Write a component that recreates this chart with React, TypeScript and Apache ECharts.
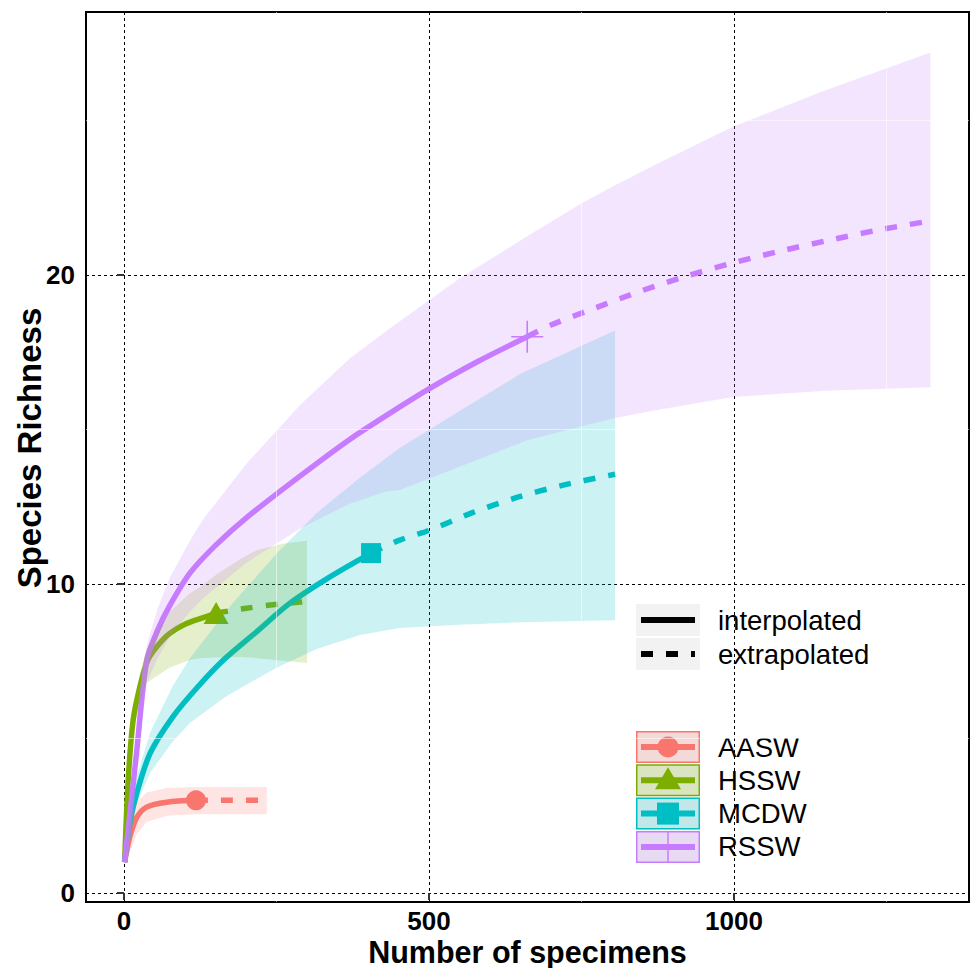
import React, { useEffect, useRef } from "react";
import * as echarts from "echarts";

// ---------- data ----------
const siteNames = ["AASW", "HSSW", "MCDW", "RSSW"];
const siteColors = ["#F8766D", "#7CAE00", "#00BFC4", "#C77CFF"];

// AASW
const aaswInterpX = [1, 10, 21, 37, 70, 118];
const aaswInterpY = [1, 1.85, 2.45, 2.78, 2.94, 3.0];
const aaswExtrapX = [118, 176, 234];
const aaswExtrapY = [3.0, 3.0, 3.0];
const aaswBandX = [1, 10, 21, 37, 70, 118, 176, 234];
const aaswBandLo = [1, 1.35, 1.9, 2.3, 2.5, 2.55, 2.55, 2.55];
const aaswBandHi = [1, 2.4, 2.95, 3.25, 3.4, 3.43, 3.43, 3.43];

// HSSW
const hsswInterpX = [1, 7, 15, 26, 39, 55, 75, 100, 136, 151];
const hsswInterpY = [1, 3.7, 5.6, 6.67, 7.54, 8.0, 8.4, 8.7, 8.95, 9.06];
const hsswExtrapX = [151, 195, 240, 289, 300];
const hsswExtrapY = [9.06, 9.2, 9.32, 9.42, 9.45];
const hsswBandX = [1, 7, 15, 26, 37, 75, 108, 125, 151, 190, 218, 260, 300];
const hsswBandLo = [1, 3.2, 5.2, 6.2, 6.8, 7.3, 7.54, 7.6, 7.63, 7.64, 7.6, 7.52, 7.44];
const hsswBandHi = [1, 4.2, 6.0, 7.1, 7.9, 9.1, 9.7, 9.9, 10.3, 10.8, 11.1, 11.3, 11.4];

// MCDW
const mcdwInterpX = [1, 10, 21, 43, 80, 120, 163, 220, 272, 335, 405];
const mcdwInterpY = [1, 2.3, 3.24, 4.53, 5.7, 6.65, 7.54, 8.5, 9.38, 10.2, 11.0];
const mcdwExtrapX = [405, 452, 502, 570, 644, 720, 805];
const mcdwExtrapY = [11.0, 11.42, 11.75, 12.3, 12.8, 13.2, 13.55];
const mcdwBandX = [1, 10, 21, 43, 80, 108, 163, 179, 251, 316, 387, 452, 550, 650, 805];
const mcdwBandLo = [1, 2.0, 2.9, 3.9, 4.9, 5.5, 6.3, 6.5, 7.3, 7.9, 8.35, 8.58, 8.68, 8.76, 8.83];
const mcdwBandHi = [1, 2.8, 3.8, 5.2, 6.7, 7.6, 9.0, 9.4, 11.0, 12.3, 13.45, 14.4, 15.6, 16.8, 18.2];

// RSSW
const rsswInterpX = [1, 10, 20, 37, 55, 75, 108, 150, 201, 289, 370, 452, 502, 580, 661];
const rsswInterpY = [1, 2.63, 4.43, 7.5, 8.5, 9.3, 10.35, 11.25, 12.15, 13.5, 14.68, 15.73, 16.34, 17.2, 18.0];
const rsswExtrapX = [661, 700, 775, 850, 925, 1000, 1075, 1150, 1235, 1322];
const rsswExtrapY = [18.0, 18.38, 18.95, 19.5, 19.98, 20.4, 20.77, 21.1, 21.45, 21.75];
const rsswBandX = [1, 10, 20, 37, 55, 75, 108, 130, 201, 289, 370, 431, 452, 551, 661, 748, 805, 879, 998, 1150, 1322];
const rsswBandLo = [1, 2.3, 3.9, 6.8, 7.6, 8.3, 9.1, 9.55, 10.7, 11.8, 12.6, 13.0, 13.04, 13.8, 14.65, 15.1, 15.37, 15.65, 16.05, 16.25, 16.37];
const rsswBandHi = [1, 3.0, 5.0, 8.0, 9.2, 10.2, 11.4, 12.1, 13.9, 15.8, 17.3, 18.2, 18.5, 19.9, 21.25, 22.3, 22.9, 23.65, 24.8, 25.98, 27.2];

// axes
const xTickValues = [0, 500, 1000];
const yTickValues = [0, 10, 20];
const xMinorValues = [250, 750, 1250];
const yMinorValues = [5, 15, 25];
const X_MIN = -62.3;
const X_MAX = 1385.2;
const Y_MIN = -0.29;
const Y_MAX = 28.51;

const legendLineTypes = ["interpolated", "extrapolated"];

// ---------- helpers ----------
const FONT = '"Liberation Sans", Arial, Helvetica, sans-serif';
const zip = (xs: number[], ys: number[]) => xs.map((x, i) => [x, ys[i]]);
const PLUS_PATH = "path://M-0.05,-1 L0.05,-1 L0.05,-0.05 L1,-0.05 L1,0.05 L0.05,0.05 L0.05,1 L-0.05,1 L-0.05,0.05 L-1,0.05 L-1,-0.05 L-0.05,-0.05 Z";

function hexA(hex: string, a: number) {
  const r = parseInt(hex.slice(1, 3), 16);
  const g = parseInt(hex.slice(3, 5), 16);
  const b = parseInt(hex.slice(5, 7), 16);
  return `rgba(${r},${g},${b},${a})`;
}

function bandSeries(xs: number[], lo: number[], hi: number[], color: string) {
  return {
    type: "custom",
    silent: true,
    z: 5,
    data: [[xs[0], lo[0]]],
    renderItem: (_p: any, api: any) => {
      const pts: number[][] = [];
      for (let i = 0; i < xs.length; i++) pts.push(api.coord([xs[i], hi[i]]));
      for (let i = xs.length - 1; i >= 0; i--) pts.push(api.coord([xs[i], lo[i]]));
      return {
        type: "polygon",
        shape: { points: pts },
        style: { fill: hexA(color, 0.2), stroke: "none" },
      };
    },
  };
}

function lineSeries(xs: number[], ys: number[], color: string, dashed: boolean) {
  return {
    type: "line",
    data: zip(xs, ys),
    symbol: "none",
    showSymbol: false,
    smooth: 0.3,
    silent: true,
    z: 2,
    lineStyle: {
      color,
      width: 5.5,
      type: dashed ? [12, 13] : "solid",
      cap: "butt",
    },
  };
}

const symbols = ["circle", "triangle", "rect", PLUS_PATH];
const symbolSizes: any[] = [20, [25, 22], 20, 32];

export default function App() {
  const ref = useRef<HTMLDivElement>(null);

  useEffect(() => {
    if (!ref.current) return;
    const chart = echarts.init(ref.current, undefined, { renderer: "svg" });

    const interp = [
      [aaswInterpX, aaswInterpY],
      [hsswInterpX, hsswInterpY],
      [mcdwInterpX, mcdwInterpY],
      [rsswInterpX, rsswInterpY],
    ];
    const extrap = [
      [aaswExtrapX, aaswExtrapY],
      [hsswExtrapX, hsswExtrapY],
      [mcdwExtrapX, mcdwExtrapY],
      [rsswExtrapX, rsswExtrapY],
    ];
    const bands = [
      [aaswBandX, aaswBandLo, aaswBandHi],
      [hsswBandX, hsswBandLo, hsswBandHi],
      [mcdwBandX, mcdwBandLo, mcdwBandHi],
      [rsswBandX, rsswBandLo, rsswBandHi],
    ];

    const series: any[] = [];
    siteNames.forEach((name, i) => {
      const c = siteColors[i];
      series.push(lineSeries(interp[i][0], interp[i][1], c, false));
      series.push(lineSeries(extrap[i][0], extrap[i][1], c, true));
      const ix = interp[i][0];
      const iy = interp[i][1];
      series.push({
        type: "scatter",
        name,
        data: [[ix[ix.length - 1], iy[iy.length - 1]]],
        symbol: symbols[i],
        symbolSize: symbolSizes[i],
        silent: true,
        z: 3,
        itemStyle: { color: c, opacity: 1 },
      });
    });
    siteNames.forEach((_n, i) => {
      series.push(bandSeries(bands[i][0], bands[i][1], bands[i][2], siteColors[i]));
    });
    // white minor grid lines drawn over the panel
    series.push({
      type: "custom",
      silent: true,
      z: 8,
      data: [[0, 0]],
      renderItem: (_p: any, api: any) => {
        const children: any[] = [];
        xMinorValues.forEach((v) => {
          const a = api.coord([v, Y_MIN]);
          const b = api.coord([v, Y_MAX]);
          children.push({ type: "line", shape: { x1: a[0], y1: a[1], x2: b[0], y2: b[1] }, style: { stroke: "#ffffff", lineWidth: 1, opacity: 0.55 } });
        });
        yMinorValues.forEach((v) => {
          const a = api.coord([X_MIN, v]);
          const b = api.coord([X_MAX, v]);
          children.push({ type: "line", shape: { x1: a[0], y1: a[1], x2: b[0], y2: b[1] }, style: { stroke: "#ffffff", lineWidth: 1, opacity: 0.55 } });
        });
        return { type: "group", children };
      },
    });

    // legend drawn as graphic
    const keyX = 636;
    const keyW = 64;
    const keyH = 32;
    const textX = 718;
    const lg: any[] = [];
    lg.push({ type: "rect", shape: { x: 623, y: 576, width: 262, height: 107 }, style: { fill: "#ffffff" } });
    lg.push({ type: "rect", shape: { x: 623, y: 703, width: 262, height: 174 }, style: { fill: "#ffffff" } });
    legendLineTypes.forEach((t, i) => {
      const y = 604 + i * 34;
      lg.push({ type: "rect", shape: { x: keyX, y, width: keyW, height: keyH }, style: { fill: "#F2F2F2" } });
      lg.push({
        type: "line",
        shape: { x1: keyX + 5, y1: y + keyH / 2, x2: keyX + keyW - 5, y2: y + keyH / 2 },
        style: { stroke: "#000", lineWidth: 6, lineDash: i === 1 ? [12, 13] : null },
      });
      lg.push({
        type: "text",
        x: textX,
        y: y + keyH / 2,
        style: { text: t, fontSize: 27.5, fontFamily: FONT, fill: "#000", verticalAlign: "middle", align: "left" },
      });
    });
    siteNames.forEach((name, i) => {
      const y = 731 + i * 33.3;
      const cx = keyX + keyW / 2;
      const cy = y + keyH / 2;
      const c = siteColors[i];
      lg.push({ type: "rect", shape: { x: keyX, y, width: keyW, height: keyH }, style: { fill: "#F2F2F2" } });
      lg.push({ type: "rect", shape: { x: keyX + 0.75, y: y + 0.75, width: keyW - 1.5, height: keyH - 1.5 }, style: { fill: hexA(c, 0.2), stroke: c, lineWidth: 1.5 } });
      lg.push({ type: "line", shape: { x1: keyX + 5, y1: cy, x2: keyX + keyW - 5, y2: cy }, style: { stroke: c, lineWidth: 6 } });
      if (i === 0) lg.push({ type: "circle", shape: { cx, cy, r: 10.5 }, style: { fill: c } });
      if (i === 1)
        lg.push({ type: "polygon", shape: { points: [[cx, cy - 13], [cx + 13, cy + 9], [cx - 13, cy + 9]] }, style: { fill: c } });
      if (i === 2) lg.push({ type: "rect", shape: { x: cx - 11, y: cy - 11, width: 22, height: 22 }, style: { fill: c } });
      if (i === 3) {
        lg.push({ type: "line", shape: { x1: cx, y1: y + 1, x2: cx, y2: y + keyH - 1 }, style: { stroke: c, lineWidth: 1.5 } });
      }
      lg.push({
        type: "text",
        x: textX,
        y: cy,
        style: { text: name, fontSize: 27.5, fontFamily: FONT, fill: "#000", verticalAlign: "middle", align: "left" },
      });
    });

    const option: any = {
      animation: false,
      backgroundColor: "#ffffff",
      textStyle: { fontFamily: FONT },
      grid: {
        left: 86,
        top: 12,
        width: 883,
        height: 890,
        show: true,
        borderColor: "#000",
        borderWidth: 2,
        backgroundColor: "transparent",
        containLabel: false,
        outerBoundsMode: "none",
      },
      xAxis: {
        type: "value",
        min: X_MIN,
        max: X_MAX,
        name: "Number of specimens",
        nameLocation: "middle",
        nameGap: 34,
        nameMoveOverlap: false,
        nameTextStyle: { fontSize: 30.5, fontWeight: "bold", color: "#000", fontFamily: FONT },
        axisLine: { show: false },
        axisTick: { show: true, length: 7, lineStyle: { color: "#333", width: 2 }, customValues: xTickValues },
        axisLabel: {
          fontSize: 26,
          lineHeight: 24,
          fontWeight: "bold",
          color: "#000",
          margin: 7,
          fontFamily: FONT,
          customValues: xTickValues,
          formatter: (v: number) => String(v),
        },
        splitLine: { show: true, lineStyle: { color: "#000", width: 1, type: [3, 3] } },
        minorTick: { show: false },
      },
      yAxis: {
        type: "value",
        min: Y_MIN,
        max: Y_MAX,
        name: "Species Richness",
        nameLocation: "middle",
        nameGap: 40,
        nameMoveOverlap: false,
        nameTextStyle: { fontSize: 33, fontWeight: "bold", color: "#000", fontFamily: FONT, padding: [0, 0, 0, 18] },
        axisLine: { show: false },
        axisTick: { show: true, length: 7, lineStyle: { color: "#333", width: 2 }, customValues: yTickValues },
        axisLabel: {
          fontSize: 26,
          fontWeight: "bold",
          color: "#000",
          margin: 11,
          fontFamily: FONT,
          customValues: yTickValues,
          formatter: (v: number) => String(v),
        },
        splitLine: { show: true, lineStyle: { color: "#000", width: 1, type: [3, 3] } },
      },
      graphic: { elements: [{ type: "group", z: 100, children: lg }] },
      series,
    };
    chart.setOption(option);
    return () => chart.dispose();
  }, []);

  return (
    <div
      ref={ref}
      style={{ position: "fixed", left: 0, top: 0, width: 971, height: 968, background: "#fff" }}
    />
  );
}
